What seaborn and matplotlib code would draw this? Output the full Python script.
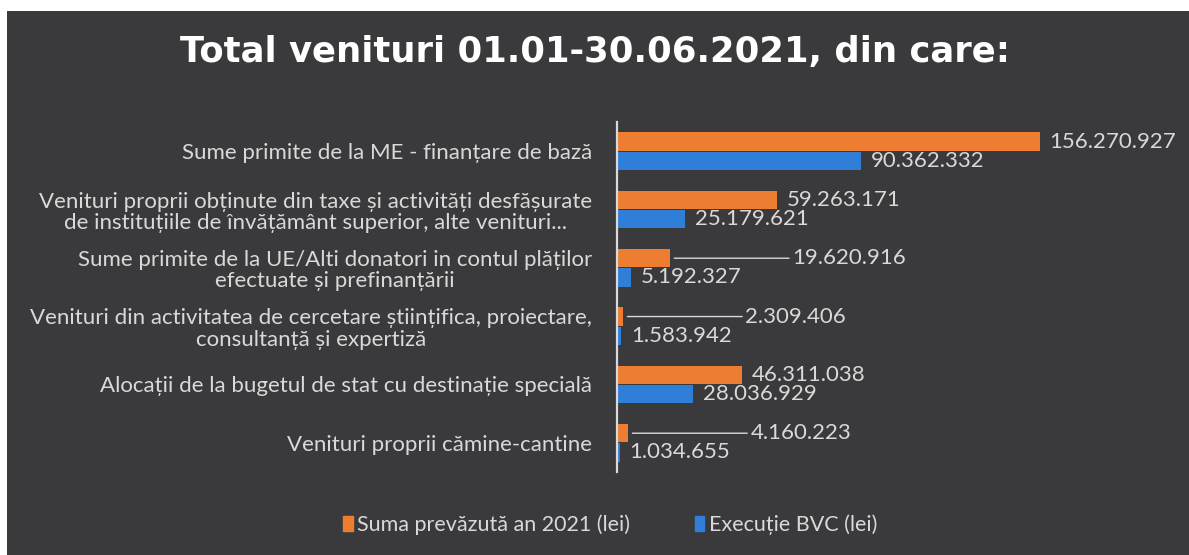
import pandas as pd
import seaborn as sns
import matplotlib.pyplot as plt
from matplotlib.patches import Rectangle

# Date din grafic (lei)
categorii = [
    "Sume primite de la ME - finanțare de bază",
    "Venituri proprii obținute din taxe și activități desfășurate\nde instituțiile de învățământ superior, alte venituri...",
    "Sume primite de la UE/Alti donatori in contul plăților\nefectuate și prefinanțării",
    "Venituri din activitatea de cercetare științifica, proiectare,\nconsultanță și expertiză",
    "Alocații de la bugetul de stat cu destinație specială",
    "Venituri proprii cămine-cantine",
]
suma_prevazuta = [156270927, 59263171, 19620916, 2309406, 46311038, 4160223]
executie_bvc = [90362332, 25179621, 5192327, 1583942, 28036929, 1034655]
serii = ["Suma prevăzută an 2021 (lei)", "Execuție BVC (lei)"]

df = pd.DataFrame({
    "categorie": categorii * 2,
    "valoare": suma_prevazuta + executie_bvc,
    "serie": [serii[0]] * len(categorii) + [serii[1]] * len(categorii),
})

bg = "#3a3a3c"
txt = "#d9d9d9"
culori = ["#ED7D31", "#2F7ED8"]

sns.set_theme(style="dark")
plt.rcParams["font.family"] = ["Lato", "DejaVu Sans"]

fig = plt.figure(figsize=(11.89, 5.55), dpi=100, facecolor="white")
fig.patches.append(Rectangle((7 / 1189, 0), 1, 1 - 11 / 555, transform=fig.transFigure,
                             facecolor=bg, edgecolor="none", zorder=-10))

ax = fig.add_axes([617 / 1189, 1 - 472 / 555, (1185 - 617) / 1189, 350 / 555])
ax.set_facecolor("none")

sns.barplot(data=df, y="categorie", x="valoare", hue="serie", orient="h",
            palette=culori, saturation=1, width=0.66, gap=0.06, ax=ax, legend=False,
            edgecolor="none", linewidth=0)

ax.set_xlim(0, 210e6)
ax.set_xlabel("")
ax.set_ylabel("")
ax.set_xticks([])
ax.grid(False)
for s in ["top", "right", "bottom"]:
    ax.spines[s].set_visible(False)
ax.spines["left"].set_color(txt)
ax.spines["left"].set_linewidth(1.6)
ax.tick_params(axis="y", length=0, pad=18, labelsize=16, labelcolor=txt)
for lbl in ax.get_yticklabels():
    lbl.set_multialignment("center")
    lbl.set_linespacing(1.1)

# etichete de date; cele mici portocalii au linie de legătură
def fmt(v):
    return f"{v:,}".replace(",", ".")

for k, cont in enumerate(ax.containers):
    for bar, v in zip(cont, cont.datavalues):
        y = bar.get_y() + bar.get_height() / 2
        x = bar.get_width()
        if k == 0 and v < 25e6:
            ax.annotate(fmt(int(v)), xy=(x, y), xytext=(88, 0), textcoords="offset points",
                        va="center", ha="left", fontsize=16, color=txt,
                        arrowprops=dict(arrowstyle="-", color=txt, lw=1.0, shrinkA=0, shrinkB=3))
        else:
            ax.annotate(fmt(int(v)), xy=(x, y), xytext=(7, 0), textcoords="offset points",
                        va="center", ha="left", fontsize=16, color=txt)

fig.text(0.5, 1 - 52 / 555, "Total venituri 01.01-30.06.2021, din care:", ha="center", va="center",
         fontsize=25.5, fontweight="bold", color="white", family="DejaVu Sans")

handles = [Rectangle((0, 0), 1, 1, color=c) for c in culori]
fig.legend(handles, serii, loc="center", bbox_to_anchor=(610 / 1189, 1 - 525 / 555), ncol=2,
           frameon=False, fontsize=15.5, labelcolor=txt, handlelength=0.45, handleheight=0.7,
           handletextpad=0.2, columnspacing=3)

fig.savefig("out.png", dpi=100, facecolor=fig.get_facecolor())
